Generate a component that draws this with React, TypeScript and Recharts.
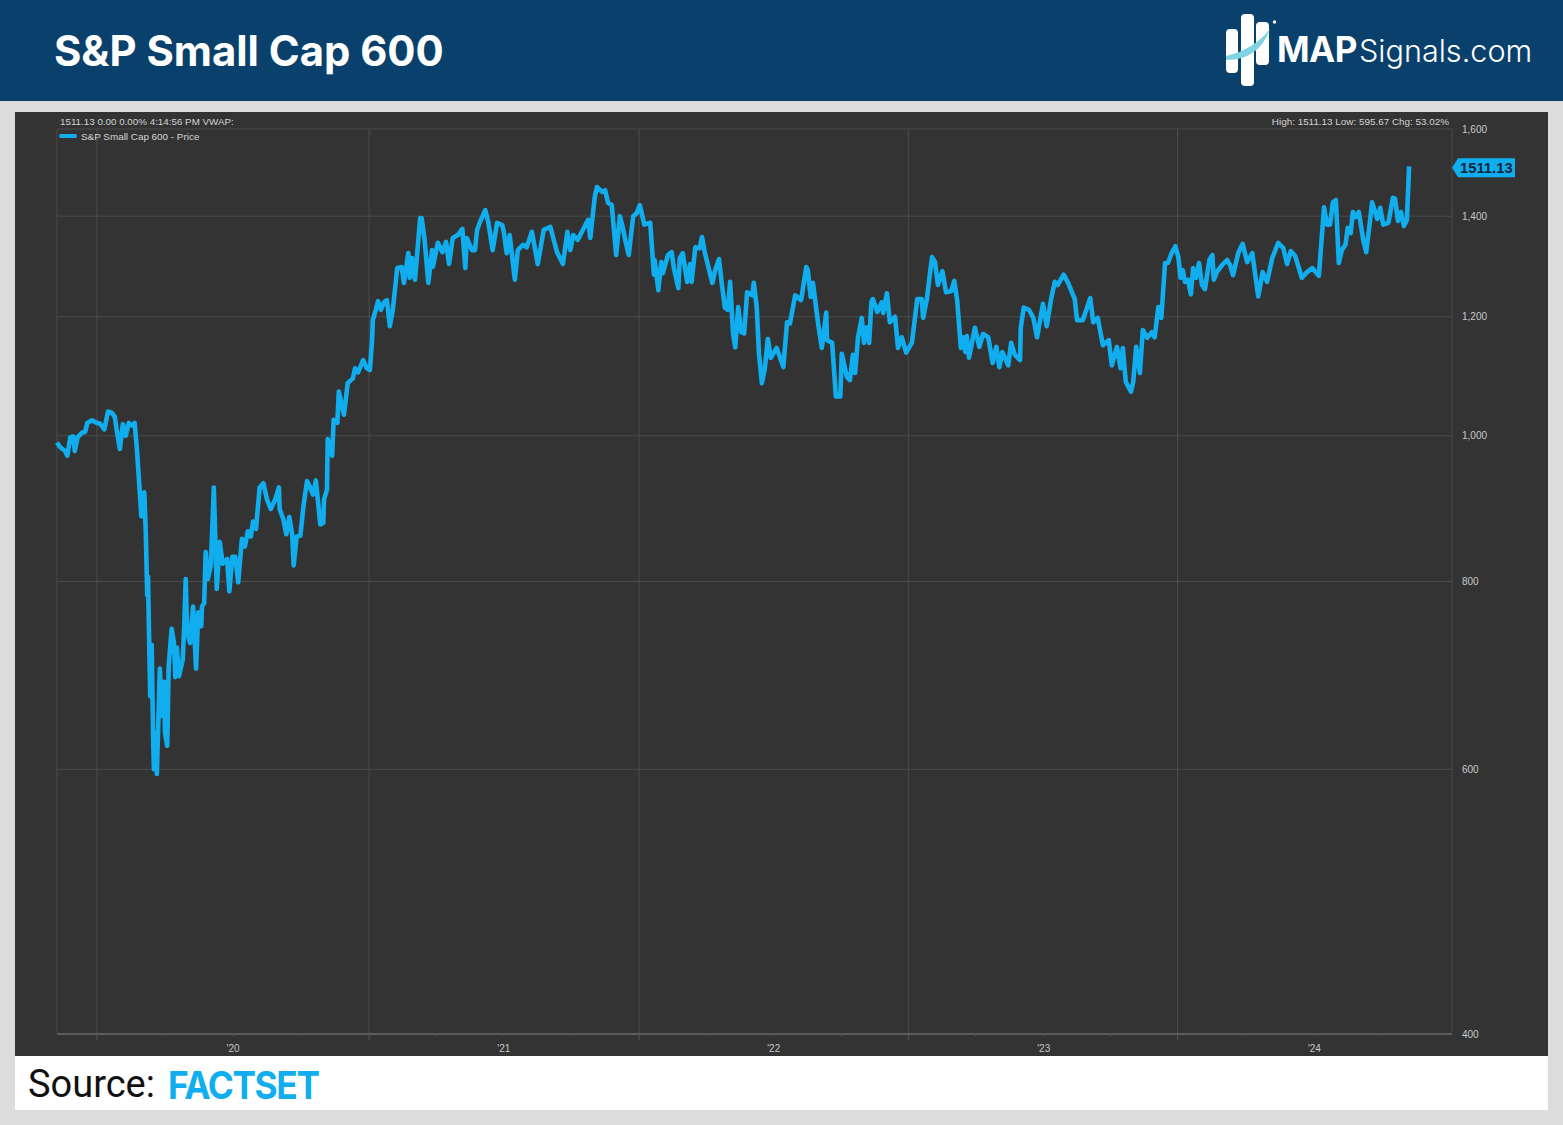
import { LineChart, Line, XAxis, YAxis, CartesianGrid, ReferenceLine, ReferenceDot } from 'recharts'

// x values are calendar days since 2019-11-08 (start of the 5Y window)
const days2019 = [0, 4, 11, 14, 18, 22, 24, 28, 34, 38, 41, 47, 54]
const prices2019 = [990, 983, 977, 970, 998, 999, 977, 998, 1005, 1006, 1020, 1024, 1020]

const days2020 = [58, 64, 69, 74, 78, 81, 85, 89, 93, 97, 101, 105, 108, 111, 114, 118, 120, 122, 123, 126, 128, 130, 131, 134, 135, 139, 142, 145, 146, 149, 151, 155, 158, 160, 162, 165, 170, 172, 174, 176, 180, 184, 188, 191, 195, 196, 199, 201, 204, 208, 212, 216, 220, 224, 230, 233, 237, 241, 245, 250, 254, 258, 262, 265, 269, 274, 279, 284, 289, 295, 300, 301, 306, 310, 314, 318, 320, 324, 329, 333, 338, 342, 346, 350, 356, 360, 361, 365, 366, 372, 374, 379, 381, 388, 393, 400, 403, 407, 414, 419]
const prices2020 = [1019, 1010, 1038, 1036, 1030, 1007, 980, 1018, 1000, 1020, 1016, 1020, 980, 932, 884, 917, 863, 783, 806, 671, 726, 628, 600, 635, 595.67, 700, 651, 686, 635, 622, 703, 744, 729, 691, 723, 692, 710, 747, 803, 740, 728, 770, 700, 763, 747, 770, 774, 837, 803, 820, 924, 791, 850, 822, 828, 788, 831, 831, 799, 854, 844, 864, 857, 877, 867, 924, 930, 907, 894, 907, 924, 894, 880, 860, 883, 860, 820, 857, 858, 896, 933, 925, 914, 934, 873, 875, 907, 921, 995, 970, 1025, 1020, 1070, 1033, 1084, 1092, 1109, 1102, 1123, 1109]

const days2021 = [423, 426, 427, 431, 434, 438, 442, 446, 450, 454, 460, 466, 469, 475, 477, 480, 484, 491, 493, 497, 502, 507, 508, 515, 521, 526, 530, 535, 542, 548, 552, 554, 561, 565, 568, 572, 579, 583, 589, 595, 602, 604, 608, 612, 619, 623, 630, 635, 642, 650, 658, 667, 676, 684, 690, 694, 698, 704, 711, 718, 721, 727, 730, 737, 741, 745, 750, 756, 761, 765, 769, 773, 779, 784]
const prices2021 = [1106, 1158, 1194, 1213, 1229, 1213, 1227, 1231, 1183, 1213, 1293, 1295, 1264, 1323, 1274, 1313, 1270, 1396, 1396, 1350, 1264, 1329, 1295, 1344, 1325, 1346, 1301, 1354, 1360, 1373, 1293, 1354, 1329, 1329, 1371, 1388, 1413, 1388, 1329, 1386, 1381, 1367, 1323, 1360, 1270, 1329, 1340, 1335, 1367, 1301, 1371, 1377, 1325, 1301, 1367, 1329, 1360, 1350, 1371, 1392, 1354, 1441, 1464, 1453, 1457, 1429, 1424, 1319, 1400, 1375, 1344, 1319, 1400, 1407]

const days2022 = [788, 794, 802, 807, 808, 813, 817, 819, 826, 831, 834, 840, 842, 846, 852, 856, 858, 863, 869, 872, 876, 886, 890, 895, 899, 903, 907, 910, 914, 917, 921, 925, 929, 933, 940, 942, 946, 949, 953, 957, 961, 965, 973, 982, 987, 991, 998, 1006, 1013, 1015, 1019, 1022, 1029, 1034, 1040, 1041, 1048, 1053, 1059, 1061, 1068, 1072, 1076, 1079, 1083, 1088, 1091, 1095, 1098, 1101, 1103, 1109, 1115, 1117, 1122, 1126, 1133, 1137, 1142, 1148]
const prices2022 = [1424, 1382, 1386, 1280, 1309, 1250, 1305, 1283, 1319, 1325, 1293, 1254, 1313, 1323, 1266, 1301, 1266, 1335, 1333, 1356, 1323, 1264, 1289, 1311, 1260, 1217, 1213, 1266, 1170, 1145, 1218, 1172, 1170, 1246, 1240, 1264, 1218, 1135, 1084, 1109, 1160, 1127, 1144, 1111, 1190, 1188, 1240, 1231, 1295, 1289, 1237, 1264, 1188, 1144, 1208, 1158, 1153, 1062, 1062, 1134, 1094, 1089, 1132, 1101, 1163, 1198, 1153, 1181, 1153, 1227, 1233, 1209, 1227, 1207, 1244, 1190, 1200, 1144, 1163, 1136]

const days2023 = [1156, 1163, 1169, 1171, 1176, 1183, 1187, 1191, 1197, 1202, 1209, 1213, 1217, 1222, 1225, 1228, 1230, 1233, 1241, 1247, 1252, 1259, 1265, 1270, 1274, 1278, 1286, 1290, 1295, 1302, 1303, 1307, 1314, 1320, 1325, 1333, 1338, 1344, 1349, 1353, 1361, 1367, 1376, 1379, 1387, 1397, 1401, 1407, 1414, 1422, 1426, 1433, 1438, 1441, 1445, 1452, 1455, 1459, 1464, 1468, 1474, 1480, 1484, 1489, 1493, 1498, 1502, 1507, 1512]
const prices2023 = [1154, 1233, 1233, 1198, 1233, 1315, 1305, 1260, 1287, 1246, 1248, 1268, 1231, 1144, 1163, 1137, 1165, 1127, 1180, 1146, 1169, 1163, 1118, 1146, 1111, 1137, 1114, 1153, 1132, 1123, 1180, 1217, 1213, 1198, 1163, 1224, 1183, 1233, 1266, 1260, 1280, 1264, 1233, 1194, 1194, 1235, 1190, 1198, 1149, 1158, 1114, 1146, 1109, 1144, 1086, 1070, 1086, 1146, 1101, 1176, 1162, 1172, 1163, 1218, 1198, 1303, 1303, 1323, 1337]

const days2024 = [1516, 1519, 1522, 1525, 1529, 1533, 1536, 1540, 1544, 1548, 1552, 1558, 1562, 1564, 1568, 1575, 1582, 1586, 1590, 1597, 1603, 1609, 1616, 1624, 1630, 1636, 1643, 1651, 1658, 1663, 1668, 1674, 1683, 1690, 1697, 1706, 1713, 1717, 1721, 1725, 1729, 1733, 1737, 1742, 1745, 1749, 1752, 1756, 1760, 1766, 1770, 1775, 1778, 1785, 1789, 1793, 1800, 1806, 1809, 1813, 1817, 1821, 1825, 1828]
const prices2024 = [1315, 1274, 1289, 1266, 1270, 1242, 1293, 1274, 1303, 1260, 1252, 1309, 1319, 1270, 1285, 1299, 1309, 1299, 1279, 1323, 1342, 1305, 1323, 1238, 1285, 1266, 1313, 1344, 1333, 1301, 1327, 1317, 1274, 1285, 1293, 1278, 1419, 1382, 1382, 1430, 1435, 1303, 1329, 1340, 1375, 1364, 1409, 1398, 1409, 1350, 1325, 1388, 1430, 1394, 1418, 1382, 1386, 1440, 1438, 1390, 1409, 1379, 1392, 1511.13]

const allDays = [...days2019, ...days2020, ...days2021, ...days2022, ...days2023, ...days2024]
const allPrices = [...prices2019, ...prices2020, ...prices2021, ...prices2022, ...prices2023, ...prices2024]
const data = allDays.map((day, i) => ({ day, price: allPrices[i] }))

const yearStarts = [54, 422, 787, 1151, 1515]
const quarterTicks = [54, 146, 238, 330, 422, 513, 604, 695, 787, 878, 969, 1060, 1151, 1242, 1334, 1425, 1515, 1606, 1700, 1791]
const yearLabels: Record<number, string> = { 238: "'20", 604: "'21", 969: "'22", 1334: "'23", 1700: "'24" }
const priceTicks = [400, 600, 800, 1000, 1200, 1400, 1600]
const lastDomainDay = 1886
const lastPrice = 1511.13

const BLUE = '#10aeee'
const GRID = '#4b4b4b'
const ARIAL = '"Liberation Sans", Arial, sans-serif'

function DateTick({ x, y, payload }: any) {
  const major = yearStarts.includes(payload.value)
  const label = yearLabels[payload.value]
  return (
    <g>
      <line x1={x} x2={x} y1={y - 8} y2={y - (major ? 2 : 5)} stroke={major ? '#555' : '#4a4a4a'} />
      {label && <text x={x} y={y + 10} textAnchor="middle" fontSize={10} fontFamily={ARIAL} fill="#c8c8c8">{label}</text>}
    </g>
  )
}

function LastPriceTag({ cx, cy }: any) {
  const mid = cy + 1.5
  return (
    <g>
      <polygon points={`${cx},${mid} ${cx + 6},${mid - 9.5} ${cx + 63},${mid - 9.5} ${cx + 63},${mid + 9.5} ${cx + 6},${mid + 9.5}`} fill={BLUE} />
      <text x={cx + 8} y={mid + 5} fontSize={14.8} fontWeight={700} fontFamily={ARIAL} fill="#10253a">{lastPrice}</text>
    </g>
  )
}

function Logo() {
  return (
    <svg width={340} height={100} style={{ position: 'absolute', left: 1223, top: 0 }}>
      <rect x={3} y={29} width={12} height={44} rx={4} fill="#fff" />
      <rect x={18} y={14} width={13} height={72} rx={4} fill="#fff" />
      <rect x={33} y={22} width={13} height={43} rx={4} fill="#fff" />
      <path d="M3 56 Q30 50 47 29 Q36 60 3 60Z" fill="#7fd3e3" />
      <circle cx={51.5} cy={22} r={1.7} fill="#fff" />
      <text x={54} y={62} fontFamily="Inter, sans-serif" fontWeight={700} fontSize={35} fill="#fff" letterSpacing={-0.5}>MAP</text>
      <text x={136} y={62} fontFamily="Inter, sans-serif" fontWeight={300} fontSize={30.6} fill="#fff">Signals.com</text>
    </svg>
  )
}

export default function App() {
  return (
    <div style={{ position: 'absolute', left: 0, top: 0, width: 1563, height: 1125, background: '#dcdcdc', overflow: 'hidden' }}>
      <div style={{ position: 'absolute', left: 0, top: 0, width: 1563, height: 101, background: '#0a416c' }} />
      <div style={{ position: 'absolute', left: 54, top: 26, fontFamily: 'Inter, sans-serif', fontWeight: 700, fontSize: 41.8, lineHeight: '50px', color: '#fff', whiteSpace: 'nowrap' }}>S&amp;P Small Cap 600</div>
      <Logo />

      <div style={{ position: 'absolute', left: 15, top: 112, width: 1533, height: 944, background: '#333333' }}>
        <LineChart width={1533} height={944} data={data} margin={{ top: 17, right: 0, left: 42, bottom: 0 }}>
          <CartesianGrid vertical={false} stroke={GRID} strokeWidth={1} />
          {yearStarts.map((d) => <ReferenceLine key={d} x={d} stroke={GRID} />)}
          <ReferenceLine x={0} stroke={GRID} />
          <XAxis
            dataKey="day"
            type="number"
            domain={[0, lastDomainDay]}
            ticks={quarterTicks}
            interval={0}
            height={22}
            tick={<DateTick />}
            tickLine={false}
            axisLine={{ stroke: '#7a7a7a' }}
          />
          <YAxis
            orientation="right"
            scale="log"
            type="number"
            domain={[400, 1600]}
            ticks={priceTicks}
            interval={0}
            allowDataOverflow
            width={96}
            tickFormatter={(v: number) => v.toLocaleString('en-US')}
            tick={{ fontSize: 10, fontFamily: ARIAL, fill: '#c8c8c8' }}
            tickMargin={4}
            tickLine={false}
            axisLine={{ stroke: GRID }}
          />
          <Line type="linear" dataKey="price" stroke={BLUE} strokeWidth={4.6} strokeLinejoin="round" dot={false} isAnimationActive={false} />
          <ReferenceDot x={lastDomainDay} y={lastPrice} r={0} ifOverflow="visible" shape={<LastPriceTag />} />
        </LineChart>

        <div style={{ position: 'absolute', left: 45, top: 3, fontFamily: ARIAL, fontSize: 9.8, lineHeight: '13px', color: '#d4d4d4', whiteSpace: 'nowrap' }}>1511.13 0.00 0.00% 4:14:56 PM VWAP:</div>
        <div style={{ position: 'absolute', right: 99, top: 3, fontFamily: ARIAL, fontSize: 9.9, lineHeight: '13px', color: '#d4d4d4', whiteSpace: 'nowrap' }}>High: 1511.13 Low: 595.67 Chg: 53.02%</div>
        <div style={{ position: 'absolute', left: 44, top: 22, width: 18, height: 4, borderRadius: 2, background: BLUE }} />
        <div style={{ position: 'absolute', left: 66, top: 18, fontFamily: ARIAL, fontSize: 9.9, lineHeight: '13px', color: '#d4d4d4', whiteSpace: 'nowrap' }}>S&amp;P Small Cap 600 - Price</div>
      </div>

      <div style={{ position: 'absolute', left: 15, top: 1056, width: 1533, height: 54, background: '#fff' }}>
        <div style={{ position: 'absolute', left: 13, top: 6, fontFamily: 'Roboto, sans-serif', fontSize: 38, lineHeight: '44px', color: '#111', whiteSpace: 'nowrap' }}>Source:</div>
        <div style={{ position: 'absolute', left: 153, top: 7, fontFamily: 'Inter, sans-serif', fontWeight: 700, fontSize: 38, lineHeight: '44px', color: BLUE, letterSpacing: -1.5, whiteSpace: 'nowrap', transform: 'scaleX(0.93)', transformOrigin: 'left center' }}>FACTSET</div>
      </div>
    </div>
  )
}
